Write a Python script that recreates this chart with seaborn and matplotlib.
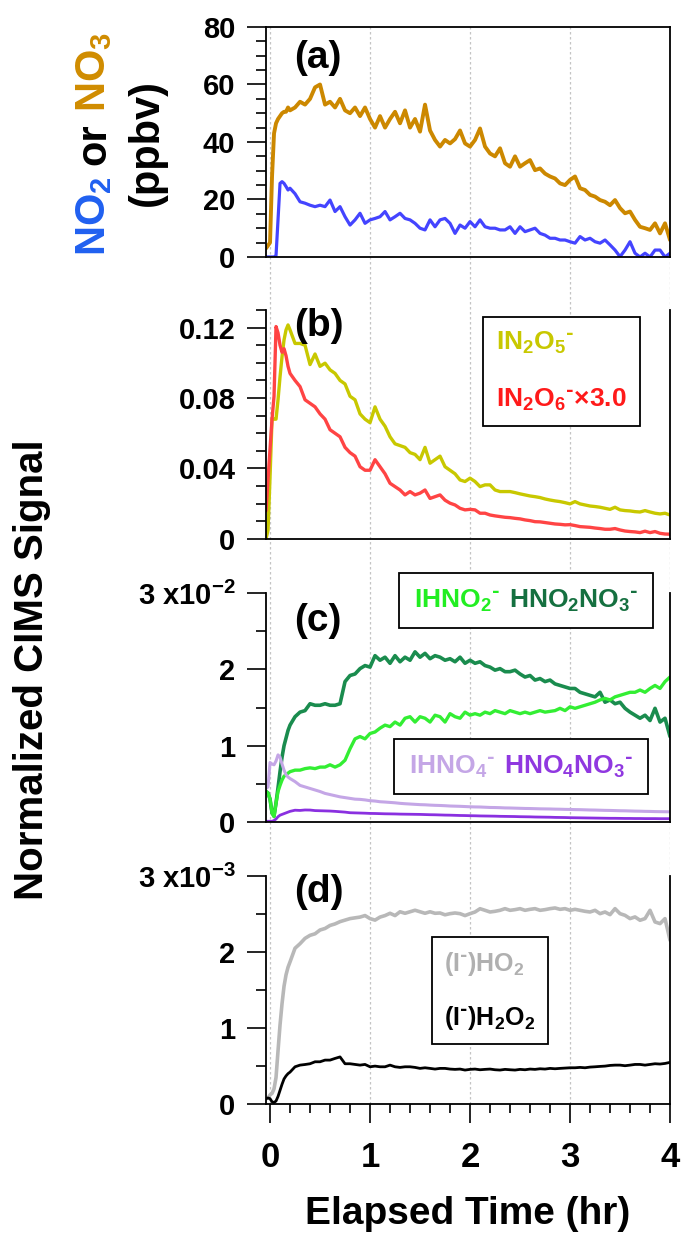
import numpy as np
import matplotlib
matplotlib.use('Agg')
import matplotlib.pyplot as plt
from matplotlib.lines import Line2D
from matplotlib.ticker import MultipleLocator, FixedLocator, FixedFormatter
import seaborn as sns

sns.set_style('ticks')
plt.rcParams['font.family'] = ['Liberation Sans', 'DejaVu Sans']
plt.rcParams['font.weight'] = 'bold'
plt.rcParams['axes.labelweight'] = 'bold'
plt.rcParams['mathtext.default'] = 'regular'
plt.rcParams['axes.linewidth'] = 1.3
for key in ['text.color', 'axes.labelcolor', 'axes.edgecolor', 'xtick.color', 'ytick.color']:
    plt.rcParams[key] = 'black'

# elapsed time (hr): fine steps during the start, then every 0.05 hr
t_early = [-0.04, -0.02, 0.00, 0.02, 0.04, 0.06, 0.08, 0.10, 0.12, 0.14, 0.16, 0.18, 0.20]
t_late = np.round(np.arange(0.25, 4.001, 0.05), 2)
time_hr = np.concatenate([t_early, t_late])

# (a) ppbv
no3 = [3, 4, 5, 28, 43, 46.5, 48, 49, 50, 50.5, 50.5, 52, 51,
       52, 54, 53, 55, 59, 60,
       53, 54, 52, 55, 51, 50, 52, 49, 52, 48,
       45, 49, 45, 48, 50.5, 46.5, 51, 45, 48, 43.6,
       53, 44, 40.7, 38.4, 40.7, 39.5, 41, 44, 39.5, 38.4,
       40.7, 44.7, 38.4, 36, 35, 37.8, 32.6, 31.4, 35, 31.4,
       32.6, 33.7, 30.2, 30.8, 29, 28, 27.3, 25.6, 25, 26.8,
       28, 23.9, 23.3, 21.6, 21, 19.8, 19.2, 18, 19.8, 17,
       15.2, 15.8, 12.9, 10.5, 10, 9.4, 11.7, 8.2, 11.7, 5.9]
no2 = [0, 0, 0, 0, 0, 0.5, 13, 25.6, 26.2, 25.6, 24.5, 23.3, 23.9,
       22, 19.2, 18.7, 18, 17.5, 18,
       17.5, 19.8, 15.8, 17.5, 14, 11.1, 12.9, 15.2, 11.7, 12.9,
       13.4, 14, 15.8, 12.9, 14, 15.2, 13.4, 12.9, 11.7, 10,
       9.4, 12.9, 10.5, 12.9, 13.4, 11.7, 8.2, 11.1, 10, 12.3,
       10.5, 12.9, 10.5, 10, 10, 9.4, 9.4, 10.5, 8.2, 10.5,
       8.8, 9.4, 10, 8.2, 7.6, 6.5, 6.5, 5.9, 5.9, 5.3,
       4.8, 7.1, 5.9, 6.5, 5.3, 4.8, 5.9, 4.2, 2.4, 0.1,
       2.4, 5.3, 1.3, 0, 1.3, 0, 2.4, 2.4, 0, 1.3]

# (b) normalized signal
in2o5 = [0, 0.005, 0.035, 0.068, 0.068, 0.068, 0.079, 0.092, 0.1035, 0.113, 0.1187, 0.1215, 0.1187,
         0.111, 0.111, 0.110, 0.099, 0.105, 0.098,
         0.0998, 0.096, 0.094, 0.090, 0.088, 0.081, 0.079, 0.071, 0.068, 0.066,
         0.075, 0.068, 0.064, 0.058, 0.054, 0.053, 0.052, 0.049, 0.048, 0.045,
         0.052, 0.043, 0.045, 0.047, 0.041, 0.039, 0.037, 0.0335, 0.0326, 0.0345,
         0.0326, 0.0297, 0.0307, 0.0307, 0.0278, 0.0269, 0.0269, 0.0269, 0.0263, 0.0256,
         0.025, 0.0244, 0.024, 0.0235, 0.0227, 0.0221, 0.0216, 0.0212, 0.0206, 0.0199,
         0.0212, 0.0199, 0.0193, 0.0187, 0.0184, 0.018, 0.0174, 0.0168, 0.018, 0.0165,
         0.0161, 0.0159, 0.0155, 0.0153, 0.0161, 0.0153, 0.0146, 0.0142, 0.0146, 0.0136]
in2o6_x3 = [0.016, 0.034, 0.051, 0.068, 0.081, 0.1206, 0.117, 0.11, 0.106, 0.108, 0.104, 0.098, 0.094,
            0.090, 0.0865, 0.079, 0.077, 0.075, 0.071,
            0.068, 0.062, 0.060, 0.058, 0.052, 0.049, 0.047, 0.041, 0.039, 0.039,
            0.045, 0.041, 0.037, 0.0316, 0.0297, 0.0278, 0.025, 0.0269, 0.025, 0.026,
            0.0278, 0.023, 0.024, 0.025, 0.022, 0.0203, 0.0193, 0.0174, 0.0165, 0.0168,
            0.0165, 0.0146, 0.0146, 0.0136, 0.0131, 0.0127, 0.0123, 0.0121, 0.0117, 0.0114,
            0.0108, 0.0104, 0.0098, 0.0097, 0.0093, 0.0089, 0.0085, 0.0083, 0.008, 0.0081,
            0.0076, 0.007, 0.0068, 0.0066, 0.0062, 0.0059, 0.0055, 0.0055, 0.0059, 0.0051,
            0.0045, 0.0042, 0.004, 0.0036, 0.0044, 0.0036, 0.0042, 0.0032, 0.0028, 0.0027]

# (c) x1e-2
ihno2 = [0.40, 0.38, 0.30, 0.12, 0.07, 0.25, 0.40, 0.48, 0.55, 0.60, 0.62, 0.64, 0.66,
         0.68, 0.68, 0.70, 0.71, 0.70, 0.72,
         0.72, 0.75, 0.72, 0.75, 0.81, 0.96, 1.09, 1.12, 1.09, 1.16,
         1.18, 1.23, 1.27, 1.25, 1.31, 1.27, 1.36, 1.38, 1.31, 1.38,
         1.36, 1.31, 1.40, 1.38, 1.31, 1.42, 1.38, 1.36, 1.44, 1.40,
         1.42, 1.40, 1.44, 1.42, 1.46, 1.44, 1.42, 1.46, 1.44, 1.42,
         1.44, 1.42, 1.44, 1.46, 1.44, 1.45, 1.46, 1.49, 1.46, 1.51,
         1.49, 1.51, 1.53, 1.55, 1.57, 1.60, 1.62, 1.60, 1.64, 1.66,
         1.68, 1.70, 1.70, 1.73, 1.70, 1.75, 1.79, 1.75, 1.84, 1.90]
hno2no3 = [0.40, 0.38, 0.30, 0.12, 0.08, 0.25, 0.45, 0.66, 0.85, 1.00, 1.10, 1.20, 1.27,
           1.38, 1.44, 1.46, 1.55, 1.53, 1.53,
           1.55, 1.53, 1.53, 1.55, 1.84, 1.92, 1.94, 2.01, 2.05, 2.03,
           2.18, 2.12, 2.16, 2.08, 2.18, 2.10, 2.16, 2.12, 2.23, 2.16,
           2.21, 2.14, 2.18, 2.16, 2.12, 2.14, 2.10, 2.16, 2.08, 2.12,
           2.08, 2.10, 2.05, 2.03, 1.99, 2.01, 1.97, 1.97, 1.99, 1.94,
           1.90, 1.92, 1.86, 1.88, 1.84, 1.86, 1.81, 1.79, 1.77, 1.75,
           1.75, 1.70, 1.68, 1.66, 1.64, 1.70, 1.57, 1.60, 1.55, 1.57,
           1.49, 1.44, 1.40, 1.36, 1.40, 1.33, 1.49, 1.31, 1.36, 1.12]
ihno4 = [0.44, 0.46, 0.78, 0.76, 0.75, 0.80, 0.88, 0.85, 0.76, 0.68, 0.62, 0.59, 0.57,
         0.53, 0.48, 0.46, 0.44, 0.42, 0.40,
         0.375, 0.36, 0.345, 0.33, 0.32, 0.31, 0.30, 0.297, 0.29, 0.28,
         0.275, 0.266, 0.262, 0.257, 0.252, 0.245, 0.24, 0.236, 0.232, 0.228,
         0.226, 0.222, 0.219, 0.217, 0.214, 0.21, 0.208, 0.206, 0.203, 0.20,
         0.198, 0.197, 0.194, 0.191, 0.19, 0.188, 0.185, 0.184, 0.182, 0.18,
         0.178, 0.177, 0.175, 0.173, 0.172, 0.171, 0.169, 0.168, 0.166, 0.165,
         0.163, 0.162, 0.16, 0.158, 0.157, 0.155, 0.153, 0.152, 0.15, 0.148,
         0.147, 0.145, 0.143, 0.142, 0.14, 0.139, 0.137, 0.136, 0.135, 0.134]
hno4no3 = [0.01, 0.01, 0.01, 0.01, 0.02, 0.04, 0.07, 0.09, 0.10, 0.11, 0.12, 0.13, 0.14,
           0.155, 0.152, 0.158, 0.157, 0.15, 0.148,
           0.146, 0.144, 0.14, 0.135, 0.13, 0.122, 0.12, 0.118, 0.116, 0.113,
           0.112, 0.11, 0.108, 0.107, 0.106, 0.104, 0.103, 0.102, 0.101, 0.10,
           0.098, 0.096, 0.095, 0.093, 0.091, 0.09, 0.088, 0.086, 0.085, 0.083,
           0.082, 0.08, 0.079, 0.078, 0.077, 0.075, 0.074, 0.073, 0.072, 0.07,
           0.069, 0.068, 0.066, 0.065, 0.064, 0.063, 0.061, 0.06, 0.059, 0.057,
           0.056, 0.055, 0.054, 0.053, 0.052, 0.051, 0.05, 0.049, 0.049, 0.048,
           0.047, 0.047, 0.046, 0.046, 0.045, 0.045, 0.045, 0.044, 0.044, 0.044]

# (d) x1e-3
ho2 = [0.07, 0.08, 0.12, 0.14, 0.20, 0.35, 0.70, 1.04, 1.32, 1.55, 1.70, 1.80, 1.87,
       2.05, 2.11, 2.18, 2.22, 2.24, 2.29,
       2.31, 2.35, 2.37, 2.40, 2.42, 2.44, 2.45, 2.46, 2.48, 2.44,
       2.42, 2.46, 2.48, 2.51, 2.48, 2.53, 2.51, 2.53, 2.55, 2.53,
       2.51, 2.53, 2.51, 2.514, 2.49, 2.505, 2.514, 2.505, 2.48, 2.505,
       2.527, 2.57, 2.549, 2.527, 2.536, 2.549, 2.571, 2.549, 2.558, 2.571,
       2.549, 2.562, 2.571, 2.549, 2.558, 2.571, 2.58, 2.562, 2.571, 2.549,
       2.562, 2.549, 2.536, 2.527, 2.549, 2.505, 2.527, 2.492, 2.571, 2.505,
       2.483, 2.44, 2.462, 2.418, 2.44, 2.549, 2.396, 2.374, 2.44, 2.155]
h2o2 = [0.07, 0.08, 0.07, 0.03, 0.02, 0.04, 0.10, 0.18, 0.26, 0.33, 0.37, 0.40, 0.42,
        0.49, 0.512, 0.52, 0.53, 0.556, 0.556,
        0.578, 0.578, 0.60, 0.62, 0.53, 0.53, 0.521, 0.512, 0.521, 0.49,
        0.499, 0.49, 0.49, 0.512, 0.49, 0.482, 0.49, 0.49, 0.482, 0.469,
        0.477, 0.469, 0.46, 0.469, 0.469, 0.46, 0.456, 0.46, 0.447, 0.456,
        0.46, 0.451, 0.456, 0.46, 0.451, 0.447, 0.456, 0.451, 0.447, 0.456,
        0.451, 0.46, 0.456, 0.464, 0.46, 0.469, 0.464, 0.469, 0.473, 0.477,
        0.477, 0.482, 0.477, 0.486, 0.49, 0.495, 0.499, 0.508, 0.512, 0.512,
        0.504, 0.512, 0.521, 0.521, 0.512, 0.521, 0.53, 0.526, 0.534, 0.548]

fig = plt.figure(figsize=(6.83, 12.33), dpi=100)
L, W = 0.3895, 0.5915
ax_d = fig.add_axes([L, 0.1046, W, 0.1849])
ax_a = fig.add_axes([L, 0.7916, W, 0.1865], sharex=ax_d)
ax_b = fig.add_axes([L, 0.5629, W, 0.1857], sharex=ax_d)
ax_c = fig.add_axes([L, 0.3333, W, 0.1857], sharex=ax_d)

# dotted time grid running through all panels
bg = fig.add_axes([L, 0.1046, W, 0.8735], sharex=ax_d, zorder=-1)
bg.set_facecolor('none')
for s in bg.spines.values():
    s.set_visible(False)
bg.set_yticks([])
bg.tick_params(axis='x', which='both', length=0, labelbottom=False)
bg.grid(axis='x', which='major', color='#c4c4c4', linestyle=(0, (2, 2)), linewidth=0.9)

sns.lineplot(x=time_hr, y=no3, ax=ax_a, color='#cc8800', linewidth=2.8)
sns.lineplot(x=time_hr, y=no2, ax=ax_a, color='#4444ff', linewidth=2.3)
sns.lineplot(x=time_hr, y=in2o5, ax=ax_b, color='#c8c800', linewidth=2.4)
sns.lineplot(x=time_hr, y=in2o6_x3, ax=ax_b, color='#ff4444', linewidth=2.4)
sns.lineplot(x=time_hr, y=hno2no3, ax=ax_c, color='#1a8c4e', linewidth=2.6)
sns.lineplot(x=time_hr, y=ihno2, ax=ax_c, color='#33ee33', linewidth=2.4)
sns.lineplot(x=time_hr, y=ihno4, ax=ax_c, color='#c4a6e6', linewidth=2.2)
sns.lineplot(x=time_hr, y=hno4no3, ax=ax_c, color='#8a30e0', linewidth=2.0)
sns.lineplot(x=time_hr, y=ho2, ax=ax_d, color='#b8b8b8', linewidth=2.6)
sns.lineplot(x=time_hr, y=h2o2, ax=ax_d, color='black', linewidth=2.0)

ax_d.set_xlim(-0.04, 4.0)
ax_d.xaxis.set_major_locator(MultipleLocator(1))
ax_d.xaxis.set_minor_locator(MultipleLocator(0.2))

panels = [
    (ax_a, (0, 80), [0, 20, 40, 60, 80], ['0', '20', '40', '60', '80'], 5, '(a)', 0.865),
    (ax_b, (0, 0.13), [0, 0.04, 0.08, 0.12], ['0', '0.04', '0.08', '0.12'], 0.01, '(b)', 0.93),
    (ax_c, (0, 3), [0, 1, 2, 3], ['0', '1', '2', '3 x10$^{-2}$'], 0.5, '(c)', 0.88),
    (ax_d, (0, 3), [0, 1, 2, 3], ['0', '1', '2', '3 x10$^{-3}$'], 0.5, '(d)', 0.93),
]
for ax, ylim, ticks, labels, minor, tag, tag_y in panels:
    ax.set_facecolor('none')
    ax.set_ylim(*ylim)
    ax.yaxis.set_major_locator(FixedLocator(ticks))
    ax.yaxis.set_major_formatter(FixedFormatter(labels))
    ax.yaxis.set_minor_locator(MultipleLocator(minor))
    ax.set_xlabel('')
    ax.set_ylabel('')
    ax.tick_params(axis='y', which='major', direction='out', length=13.5, width=1.2,
                   labelsize=21, pad=8.5)
    ax.tick_params(axis='y', which='minor', direction='out', length=7, width=1.2)
    ax.spines['top'].set_visible(ax is ax_a)
    for s in ax.spines.values():
        s.set_linewidth(1.3)
    ax.text(0.07, tag_y, tag, transform=ax.transAxes, fontsize=28, ha='left', va='center')

for ax in (ax_a, ax_b, ax_c):
    ax.tick_params(axis='x', which='both', length=0, labelbottom=False)
ax_d.tick_params(axis='x', which='major', direction='out', length=13.5, width=1.2,
                 labelsize=25, pad=13)
ax_d.tick_params(axis='x', which='minor', direction='out', length=6.5, width=1.2)
ax_d.set_xlabel('Elapsed Time (hr)', fontsize=28, fontweight='bold', labelpad=16)


def box_legend(ax, labels, colors, anchor, ncol=1, size=19, **kw):
    handles = [Line2D([], [], linestyle='none') for _ in labels]
    leg = ax.legend(handles, labels, loc='upper right', bbox_to_anchor=anchor, ncol=ncol,
                    handlelength=0, handletextpad=0, labelcolor=colors, fontsize=size,
                    frameon=True, fancybox=False, framealpha=1, edgecolor='black',
                    borderaxespad=0, **kw)
    leg.get_frame().set_linewidth(1.3)
    return leg


minus = '$^{\\text{-}}$'
box_legend(ax_b, ['IN$_2$O$_5$' + minus, 'IN$_2$O$_6$' + minus + '×3.0'], ['#c8c800', '#ff1a1a'],
           (0.926, 0.969), borderpad=0.5, labelspacing=1.15)
leg_c1 = box_legend(ax_c, ['IHNO$_2$' + minus, 'HNO$_2$NO$_3$' + minus], ['#22ee22', '#157040'],
                    (0.958, 1.087), ncol=2, columnspacing=0.35, borderpad=0.55)
ax_c.add_artist(leg_c1)
box_legend(ax_c, ['IHNO$_4$' + minus, 'HNO$_4$NO$_3$' + minus], ['#c4a6e6', '#9038e0'],
           (0.946, 0.362), ncol=2, columnspacing=0.35, borderpad=0.55)
box_legend(ax_d, ['(I' + minus + ')HO$_2$', '(I' + minus + ')H$_2$O$_2$'], ['#b0b0b0', 'black'],
           (0.698, 0.732), size=18, borderpad=0.5, labelspacing=1.05)

# shared y label and the coloured label of panel (a)
fig.text(43 / 683, 1 - 670 / 1233, 'Normalized CIMS Signal', fontsize=29, rotation=90,
         rotation_mode='anchor', ha='center', va='baseline')


def stacked_vertical_text(pieces, x, yc, size):
    texts = []
    for s, c, gap in pieces:
        texts.append((fig.text(x, 0, s, color=c, fontsize=size, rotation=90,
                               rotation_mode='anchor', ha='left', va='baseline'), gap))
    fig.canvas.draw()
    r = fig.canvas.get_renderer()
    H = fig.bbox.height
    lengths = [(tx.get_window_extent(r).height + gap) / H for tx, gap in texts]
    y = yc - sum(lengths) / 2
    for (tx, gap), ln in zip(texts, lengths):
        y += gap / H
        tx.set_y(y)
        y += ln - gap / H


space = 0.278 * 30 * 100 / 72
stacked_vertical_text([('NO$_2$', '#2060f0', 0), ('or', 'black', space),
                       ('NO$_3$', '#d08c00', space)], 105 / 683, 1 - 144 / 1233, 30)
stacked_vertical_text([('(ppbv)', 'black', 0)], 158 / 683, 1 - 143 / 1233, 30)

fig.savefig('out.png', dpi=100)
